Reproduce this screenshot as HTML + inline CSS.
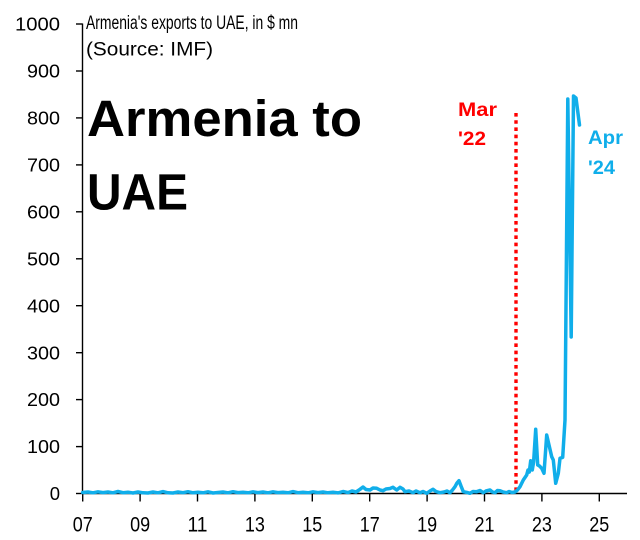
<!DOCTYPE html>
<html>
<head>
<meta charset="utf-8">
<style>
  html, body { margin: 0; padding: 0; background: #ffffff; }
  svg { display: block; }
  text { font-family: "Liberation Sans", Arial, sans-serif; }
</style>
</head>
<body>
<svg width="640" height="540" viewBox="0 0 640 540" xmlns="http://www.w3.org/2000/svg">
  <rect x="0" y="0" width="640" height="540" fill="#ffffff"/>

  <!-- Axes -->
  <g stroke="#000" stroke-width="1.4" fill="none">
    <line x1="82.5" y1="23.5" x2="82.5" y2="494"/>
    <line x1="82" y1="493.5" x2="627" y2="493.5"/>
    <!-- y ticks -->
    <line x1="76" y1="493.5" x2="82.5" y2="493.5"/>
    <line x1="76" y1="446.6" x2="82.5" y2="446.6"/>
    <line x1="76" y1="399.6" x2="82.5" y2="399.6"/>
    <line x1="76" y1="352.7" x2="82.5" y2="352.7"/>
    <line x1="76" y1="305.7" x2="82.5" y2="305.7"/>
    <line x1="76" y1="258.8" x2="82.5" y2="258.8"/>
    <line x1="76" y1="211.8" x2="82.5" y2="211.8"/>
    <line x1="76" y1="164.9" x2="82.5" y2="164.9"/>
    <line x1="76" y1="117.9" x2="82.5" y2="117.9"/>
    <line x1="76" y1="71" x2="82.5" y2="71"/>
    <line x1="76" y1="24" x2="82.5" y2="24"/>
    <!-- x ticks -->
    <line x1="82.7" y1="493.5" x2="82.7" y2="501.5"/>
    <line x1="140.1" y1="493.5" x2="140.1" y2="501.5"/>
    <line x1="197.5" y1="493.5" x2="197.5" y2="501.5"/>
    <line x1="254.9" y1="493.5" x2="254.9" y2="501.5"/>
    <line x1="312.3" y1="493.5" x2="312.3" y2="501.5"/>
    <line x1="369.7" y1="493.5" x2="369.7" y2="501.5"/>
    <line x1="427.1" y1="493.5" x2="427.1" y2="501.5"/>
    <line x1="484.5" y1="493.5" x2="484.5" y2="501.5"/>
    <line x1="541.9" y1="493.5" x2="541.9" y2="501.5"/>
    <line x1="599.3" y1="493.5" x2="599.3" y2="501.5"/>
  </g>

  <!-- Y labels -->
  <g font-size="18.5" fill="#000" text-anchor="end">
    <text x="60" y="500">0</text>
    <text x="60" y="453.2" textLength="33" lengthAdjust="spacingAndGlyphs">100</text>
    <text x="60" y="406.2" textLength="33" lengthAdjust="spacingAndGlyphs">200</text>
    <text x="60" y="359.3" textLength="33" lengthAdjust="spacingAndGlyphs">300</text>
    <text x="60" y="312.3" textLength="33" lengthAdjust="spacingAndGlyphs">400</text>
    <text x="60" y="265.4" textLength="33" lengthAdjust="spacingAndGlyphs">500</text>
    <text x="60" y="218.4" textLength="33" lengthAdjust="spacingAndGlyphs">600</text>
    <text x="60" y="171.5" textLength="33" lengthAdjust="spacingAndGlyphs">700</text>
    <text x="60" y="124.5" textLength="33" lengthAdjust="spacingAndGlyphs">800</text>
    <text x="60" y="77.6" textLength="33" lengthAdjust="spacingAndGlyphs">900</text>
    <text x="60" y="30.6" textLength="45" lengthAdjust="spacingAndGlyphs">1000</text>
  </g>

  <!-- X labels -->
  <g font-size="21" fill="#000">
    <text x="72.7" y="531.5" textLength="20" lengthAdjust="spacingAndGlyphs">07</text>
    <text x="130.1" y="531.5" textLength="20" lengthAdjust="spacingAndGlyphs">09</text>
    <text x="187.5" y="531.5" textLength="20" lengthAdjust="spacingAndGlyphs">11</text>
    <text x="244.9" y="531.5" textLength="20" lengthAdjust="spacingAndGlyphs">13</text>
    <text x="302.3" y="531.5" textLength="20" lengthAdjust="spacingAndGlyphs">15</text>
    <text x="359.7" y="531.5" textLength="20" lengthAdjust="spacingAndGlyphs">17</text>
    <text x="417.1" y="531.5" textLength="20" lengthAdjust="spacingAndGlyphs">19</text>
    <text x="474.5" y="531.5" textLength="20" lengthAdjust="spacingAndGlyphs">21</text>
    <text x="531.9" y="531.5" textLength="20" lengthAdjust="spacingAndGlyphs">23</text>
    <text x="589.3" y="531.5" textLength="20" lengthAdjust="spacingAndGlyphs">25</text>
  </g>

  <!-- Subtitle -->
  <text x="86" y="29" font-size="19.5" fill="#000" textLength="212" lengthAdjust="spacingAndGlyphs">Armenia's exports to UAE, in $ mn</text>
  <text x="86" y="55.5" font-size="19" fill="#000" textLength="127" lengthAdjust="spacingAndGlyphs">(Source: IMF)</text>

  <!-- Big title -->
  <text x="87" y="136" font-size="51" font-weight="bold" fill="#000" textLength="275" lengthAdjust="spacingAndGlyphs">Armenia to</text>
  <text x="87" y="209.3" font-size="51" font-weight="bold" fill="#000" textLength="101" lengthAdjust="spacingAndGlyphs">UAE</text>

  <!-- Mar '22 annotation -->
  <text x="458" y="116" font-size="19" font-weight="bold" fill="#ff0000" textLength="39" lengthAdjust="spacingAndGlyphs">Mar</text>
  <text x="458" y="145" font-size="19" font-weight="bold" fill="#ff0000" textLength="28" lengthAdjust="spacingAndGlyphs">'22</text>
  <line x1="516" y1="113" x2="516" y2="493" stroke="#ff0000" stroke-width="3.4" stroke-dasharray="3.6 3.6"/>

  <!-- Apr '24 annotation -->
  <text x="588" y="144" font-size="19" font-weight="bold" fill="#10aeea" textLength="35" lengthAdjust="spacingAndGlyphs">Apr</text>
  <text x="588" y="174" font-size="19" font-weight="bold" fill="#10aeea" textLength="27" lengthAdjust="spacingAndGlyphs">'24</text>

  <!-- Series -->
  <polyline fill="none" stroke="#10aeea" stroke-width="3.5" stroke-linejoin="round" stroke-linecap="round"
    points="82.7,492.5 88,492 93,492.8 98,491.8 103,492.6 108,492 113,492.8 118,491.5 123,492.7 128,492.2 133,493 138,492 143,492.8 148,493 153,492 158,492.8 163,491.6 168,492.8 173,493 178,492 183,492.7 188,491.7 193,492.8 198,492.2 203,492.8 208,491.8 213,493 218,492.5 223,492 228,492.8 233,491.7 238,492.6 243,492.2 248,492.8 253,491.8 258,492.6 263,492 268,492.8 273,491.8 278,492.6 283,492.2 288,492.8 293,491.6 298,492.7 303,492.2 308,492.8 313,491.8 318,492.6 323,492 328,492.8 333,492.3 338,492.9 343,491.5 348,492.6 352,491 356,492 360,489.3 363,487 366,489.5 370,490 373,488 376.7,488.3 380,490 383,490.7 386,489 390,488.5 393,487.3 396.7,490 400,487.3 403,489 405,491.7 409,491 413,492.7 416,491 420,492.7 423,491.5 426.7,493.3 430,491 433,489.3 436,491.5 440,492.7 444,492 447,491 450,492.7 452.5,490 455,486.7 457,483 459,480.7 461,486 463.3,491.7 467,492.5 470,493.3 473,491.5 476.7,491.7 480,490.5 483.3,492.7 486,491 490,490 492.5,492 495,492.7 497.5,490.5 500,490.7 503,492 506.7,492.7 509,491.5 512,492.5 515,492 517.5,490 520,486.7 523.3,480 526.7,475 528,470 529.3,472 530.7,460.7 532.3,470 533.6,462 535.7,429.3 537.7,465 539.5,466 541.7,468.3 544,473.3 546.7,435 549,445 551.7,456.7 553.3,460 555.7,483.3 558.3,473.3 560,458.3 562.7,457.3 565,420 567.8,99 571.2,337 573.5,96 576,98 579.5,125"/>
</svg>
</body>
</html>
